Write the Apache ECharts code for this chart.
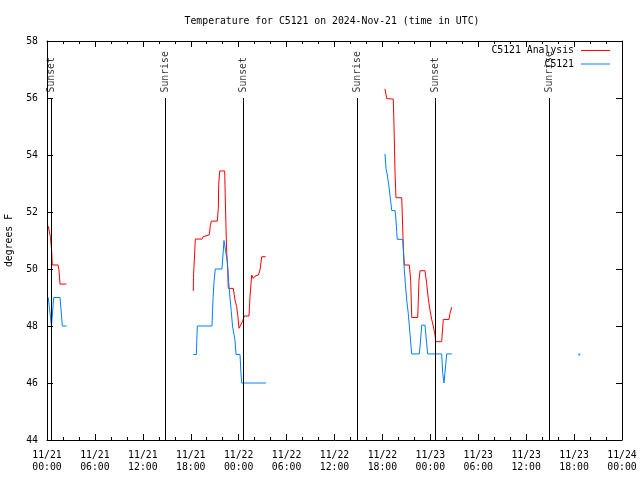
<!DOCTYPE html>
<html><head><meta charset="utf-8">
<script src="https://cdn.jsdelivr.net/npm/echarts@6/dist/echarts.min.js"></script>
<style>html,body{margin:0;padding:0;background:#fff}#c{width:640px;height:480px}</style>
</head><body><div id="c"></div>
<script>
// x values: hours since 2024-11-21 00:00 UTC
const xTickLabels = ['11/21\n00:00','11/21\n06:00','11/21\n12:00','11/21\n18:00','11/22\n00:00','11/22\n06:00','11/22\n12:00','11/22\n18:00','11/23\n00:00','11/23\n06:00','11/23\n12:00','11/23\n18:00','11/24\n00:00'];

const analysisHours = [0.16,0.41,0.44,0.59,0.66,1.38,1.50,1.63,2.42, 10,
  18.32,18.34,18.50,18.57,19.41,19.54,20.32,20.45,20.57,21.33,21.45,21.50,21.63,22.25,22.33,22.45,22.50,22.63,22.70,23.33,23.45,23.54,23.75,23.88,24.04,24.29,24.46,24.71,25.29,25.42,25.63,25.83,26.04,26.46,26.67,26.88,27.39, 35,
  42.32,42.54,42.61,43.36,43.45,43.58,43.70,44.42,44.49,44.62,44.74,45.37,45.54,45.67,46.42,46.58,46.71,47.33,47.54,47.74,47.96,48.17,48.37,48.59,48.67,49.42,49.62,50.34,50.46,50.68];
const analysisTemps = [51.5,51.5,51.1,50.6,50.14,50.14,49.96,49.47,49.47, null,
  49.23,49.7,50.6,51.05,51.05,51.13,51.2,51.52,51.68,51.68,52.13,52.97,53.44,53.44,52.42,51.07,50.6,50.0,49.32,49.32,49.09,48.91,48.68,48.39,47.92,47.92,48.15,48.35,48.35,49.03,49.79,49.67,49.75,49.79,49.96,50.43,50.43, null,
  56.32,55.98,55.96,55.96,55.08,53.36,52.5,52.5,51.89,50.75,50.14,50.14,49.6,48.3,48.3,49.6,49.94,49.94,49.5,48.97,48.56,48.23,48.0,47.68,47.45,47.45,48.23,48.23,48.44,48.66];

const stationHours = [0.16,0.34,0.56,0.69,0.84,1.63,1.92,2.46, 10,
  18.32,18.70,18.82,20.66,20.79,20.91,21.07,21.91,22.04,22.16,22.41,22.58,22.75,22.92,23.08,23.23,23.42,23.54,23.67,24.17,24.29,24.38,27.42, 35,
  42.32,42.45,42.61,42.74,42.87,43.04,43.17,43.58,43.70,43.79,43.86,44.54,44.62,44.74,44.87,45.04,45.24,45.45,45.66,46.62,46.71,46.92,47.33,47.54,47.66,49.42,49.55,49.71,49.84,50.05,50.68];
const stationTemps = [49.0,49.0,48.0,48.0,49.0,49.0,48.0,48.0, null,
  47.0,47.0,48.0,48.0,48.97,49.55,50.0,50.0,50.5,51.0,51.0,50.26,49.55,48.97,48.5,48.0,48.0,47.5,47.0,47.0,46.34,46.0,46.0, null,
  54.04,53.53,53.3,53.06,52.77,52.36,52.05,52.05,51.72,51.31,51.04,51.04,50.67,49.96,49.5,48.91,48.44,47.74,47.02,47.02,47.27,48.03,48.03,47.39,47.02,47.02,46.34,46.0,46.0,47.02,47.02];

const stationLoneHours = [66.65];
const stationLoneTemps = [47.0];

const sunHours = [0.59,14.80,24.58,38.85,48.62,62.90];
const sunNames = ['Sunset','Sunrise','Sunset','Sunrise','Sunset','Sunrise'];
const sunLineTop = 56;
const yMin = 44, yMax = 58, yStep = 2;

const FONT = 'DejaVu Sans Mono';
const FS = 9.8;
const zip = (a, b) => a.map((v, i) => [v, b[i]]);

const chart = echarts.init(document.getElementById('c'), null, {renderer: 'canvas'});
const axisCommon = {
  axisLine: {show: true, onZero: false, lineStyle: {color: '#000', width: 1}},
  axisTick: {show: true, inside: true, length: 6, lineStyle: {color: '#000', width: 1}},
  splitLine: {show: false}
};
const legendCommon = {right: 30, align: 'right', padding: 0, itemWidth: 29, itemHeight: 1, icon: 'rect',
  textStyle: {fontFamily: FONT, fontSize: FS, color: '#000', padding: [0, 2, 0, 0]}};
chart.setOption({
  animation: false,
  backgroundColor: '#fff',
  title: {text: 'Temperature for C5121 on 2024-Nov-21 (time in UTC)', left: 327, textAlign: 'center', top: 11,
    textStyle: {fontFamily: FONT, fontSize: FS, fontWeight: 'normal', color: '#000'}},
  grid: {left: 47, right: 18, top: 41, bottom: 40, outerBoundsMode: 'none', containLabel: false},
  legend: [
    Object.assign({data: ['C5121 Analysis'], top: 45.5}, legendCommon),
    Object.assign({data: ['C5121'], top: 59}, legendCommon)
  ],
  xAxis: [
    Object.assign({type: 'value', min: 0, max: 72, interval: 6, position: 'bottom',
      minorTick: {show: true, splitNumber: 3, length: 3, lineStyle: {color: '#000'}},
      axisLabel: {formatter: v => xTickLabels[Math.round(v / 6)], color: '#000', fontFamily: FONT, fontSize: FS, lineHeight: 12, margin: 9}}, axisCommon),
    Object.assign({type: 'value', min: 0, max: 72, interval: 6, position: 'top',
      minorTick: {show: true, splitNumber: 3, length: 3, lineStyle: {color: '#000'}},
      axisLabel: {show: false}}, axisCommon)
  ],
  yAxis: [
    Object.assign({type: 'value', min: yMin, max: yMax, interval: yStep, position: 'left',
      name: 'degrees F', nameLocation: 'middle', nameGap: 33,
      nameTextStyle: {fontFamily: FONT, fontSize: FS, color: '#000'},
      axisLabel: {color: '#000', fontFamily: FONT, fontSize: FS, margin: 9}}, axisCommon),
    Object.assign({type: 'value', min: yMin, max: yMax, interval: yStep, position: 'right',
      axisLabel: {show: false}}, axisCommon)
  ],
  series: [
    {
      name: 'sun', type: 'scatter', symbolSize: 1, itemStyle: {color: 'rgba(0,0,0,0)'}, silent: true,
      data: sunHours.map((h, i) => ({value: [h, sunLineTop], name: sunNames[i]})),
      label: {show: true, formatter: p => p.name, position: 'top', distance: 5, rotate: 90,
        align: 'left', verticalAlign: 'middle', fontFamily: FONT, fontSize: FS, color: '#000'},
      markLine: {silent: true, symbol: ['none', 'none'], label: {show: false},
        lineStyle: {color: '#000', width: 1, type: 'solid'},
        emphasis: {disabled: true},
        data: sunHours.map(h => [{coord: [h, yMin]}, {coord: [h, sunLineTop]}])}
    },
    {name: 'C5121 Analysis', type: 'line', symbol: 'none', showSymbol: false, connectNulls: false,
      color: '#ff0000', lineStyle: {width: 1, color: '#ff0000'}, data: zip(analysisHours, analysisTemps)},
    {name: 'C5121', type: 'line', symbol: 'none', showSymbol: false, connectNulls: false,
      color: '#0080ff', lineStyle: {width: 1, color: '#0080ff'}, data: zip(stationHours, stationTemps)},
    {name: 'C5121', type: 'scatter', symbol: 'rect', symbolSize: 2, itemStyle: {color: '#0080ff'},
      data: zip(stationLoneHours, stationLoneTemps)}
  ]
});
</script></body></html>
